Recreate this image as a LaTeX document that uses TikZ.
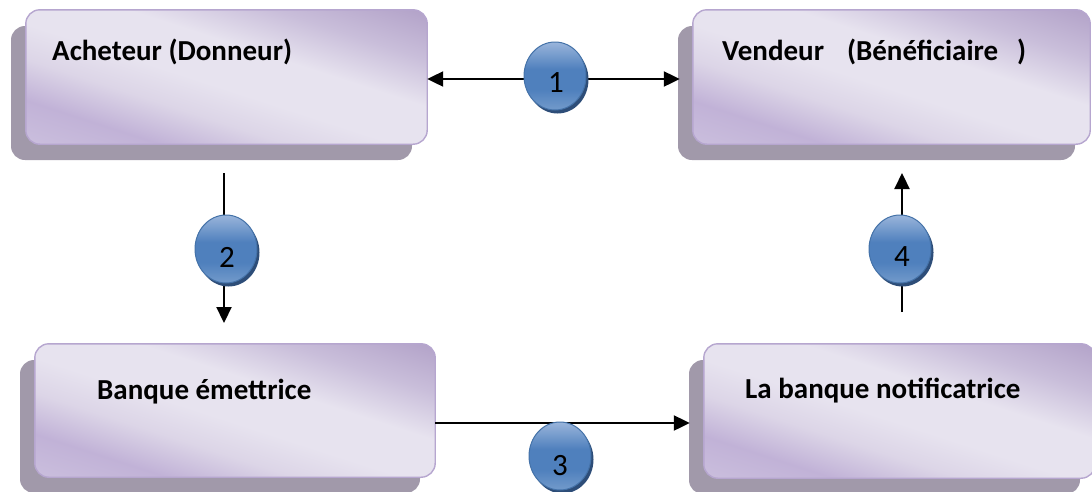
\documentclass[tikz,border=0pt]{standalone}
\usepackage{fontspec}
\setmainfont{Carlito}
\usetikzlibrary{arrows.meta,shadows,shapes.geometric}

\definecolor{boxdark}{HTML}{B3A3C9}
\definecolor{boxmidtop}{HTML}{C9BEDA}
\definecolor{boxlight}{HTML}{E7E3EF}
\definecolor{boxsoft}{HTML}{DCD5E7}
\definecolor{boxpurp}{HTML}{C1B2D7}
\definecolor{boxlow}{HTML}{CABEDD}
\definecolor{boxedge}{HTML}{B6A6CF}
\definecolor{boxshadow}{HTML}{A199AA}
\definecolor{ctop}{HTML}{9AB5DB}
\definecolor{cmid}{HTML}{4F80BD}
\definecolor{cbot}{HTML}{6E97C9}
\definecolor{cedge}{HTML}{4472A8}
\definecolor{cshadow}{HTML}{2D4D78}

\pgfdeclareverticalshading{bandshade}{100bp}{color(0bp)=(boxlow); color(28bp)=(boxlow); color(35bp)=(boxpurp); color(42bp)=(boxsoft); color(48bp)=(boxlight); color(56bp)=(boxlight); color(64bp)=(boxmidtop); color(72bp)=(boxdark); color(100bp)=(boxdark)}
\pgfdeclareverticalshading{ballshade}{100bp}{color(0bp)=(cbot); color(27bp)=(cbot); color(40bp)=(cmid); color(55bp)=(cmid); color(75bp)=(ctop); color(100bp)=(ctop)}

\tikzset{
  box/.style={rectangle, inner sep=0pt, rounded corners=14pt,
    general shadow={fill=boxshadow, shadow xshift=-15pt, shadow yshift=-16pt}},
  boxborder/.style={draw=boxedge, line width=1.4pt, rounded corners=14pt},
  boxtext/.style={anchor=base west, inner sep=0pt, font=\fontsize{29}{34}\selectfont\bfseries},
  ball/.style={ellipse, minimum width=62pt, minimum height=68pt, inner sep=0pt,
    draw=cedge, line width=1pt, shading=ballshade,
    general shadow={fill=cshadow, shadow xshift=2.5pt, shadow yshift=-3.5pt}},
  digit/.style={inner sep=0pt, font=\fontsize{31}{34}\selectfont},
  arr/.style={line width=2.2pt, -{Triangle[length=16pt,width=15pt]}},
  arrboth/.style={line width=2.2pt, {Triangle[length=16pt,width=15pt]}-{Triangle[length=16pt,width=15pt]}}
}

\newcommand{\glossbox}[1]{%
  \begin{scope}
    \clip[rounded corners=14pt] (#1.south west) rectangle (#1.north east);
    \begin{scope}[transform canvas={rotate around={-18:(#1.center)}}]
      \shade[shading=bandshade] ([xshift=-230pt,yshift=-140pt]#1.center) rectangle ([xshift=230pt,yshift=140pt]#1.center);
    \end{scope}
  \end{scope}
  \draw[boxborder] (#1.south west) rectangle (#1.north east);
}

\begin{document}
\begin{tikzpicture}[x=1pt,y=-1pt]
\useasboundingbox (0,0) rectangle (1092,491);

% boxes
\node[box, minimum width=401pt, minimum height=134pt] (acheteur) at (226.5,77) {};
\node[box, minimum width=397pt, minimum height=134pt] (vendeur) at (891.5,77) {};
\node[box, minimum width=400pt, minimum height=133pt] (banque) at (235,410.5) {};
\node[box, minimum width=391pt, minimum height=134pt] (notif) at (899.5,411) {};
\glossbox{acheteur}
\glossbox{vendeur}
\glossbox{banque}
\glossbox{notif}

% texts
\node[boxtext] (tacheteur) at (52,60) {Acheteur (Donneur)};
\node[boxtext] (tvendeur) at (722,60) {Vendeur\hspace{23pt}(Bénéficiaire\hspace{19pt})};
\node[boxtext] (tbanque) at (97,399) {Banque émettrice};
\node[boxtext] (tnotif) at (745,398) {La banque notificatrice};

% connector end points
\coordinate (a2s) at (224,173);
\coordinate (a2e) at (224,323);
\coordinate (a4s) at (902,312);
\coordinate (a4e) at (902,173);
\coordinate (y1) at (0,79);
\coordinate (y3) at (0,423);

% connectors
\draw[arrboth] (acheteur.east |- y1) -- ([xshift=-13pt]vendeur.west |- y1);
\draw[arr] (a2s) -- (a2e);
\draw[arr] (a4s) -- (a4e);
\draw[arr] (banque.east |- y3) -- ([xshift=-14pt]notif.west |- y3);

% numbered circles
\node[ball] (c1) at (555,76) {};
\node[ball] (c2) at (226,249) {};
\node[ball] (c3) at (560,456) {};
\node[ball] (c4) at (900,249) {};
\node[digit] (d1) at ([xshift=1pt,yshift=-7pt]c1.center) {1};
\node[digit] (d2) at ([xshift=1pt,yshift=-8pt]c2.center) {2};
\node[digit] (d3) at ([xshift=0pt,yshift=-10pt]c3.center) {3};
\node[digit] (d4) at ([xshift=2pt,yshift=-8pt]c4.center) {4};
\end{tikzpicture}
\end{document}
